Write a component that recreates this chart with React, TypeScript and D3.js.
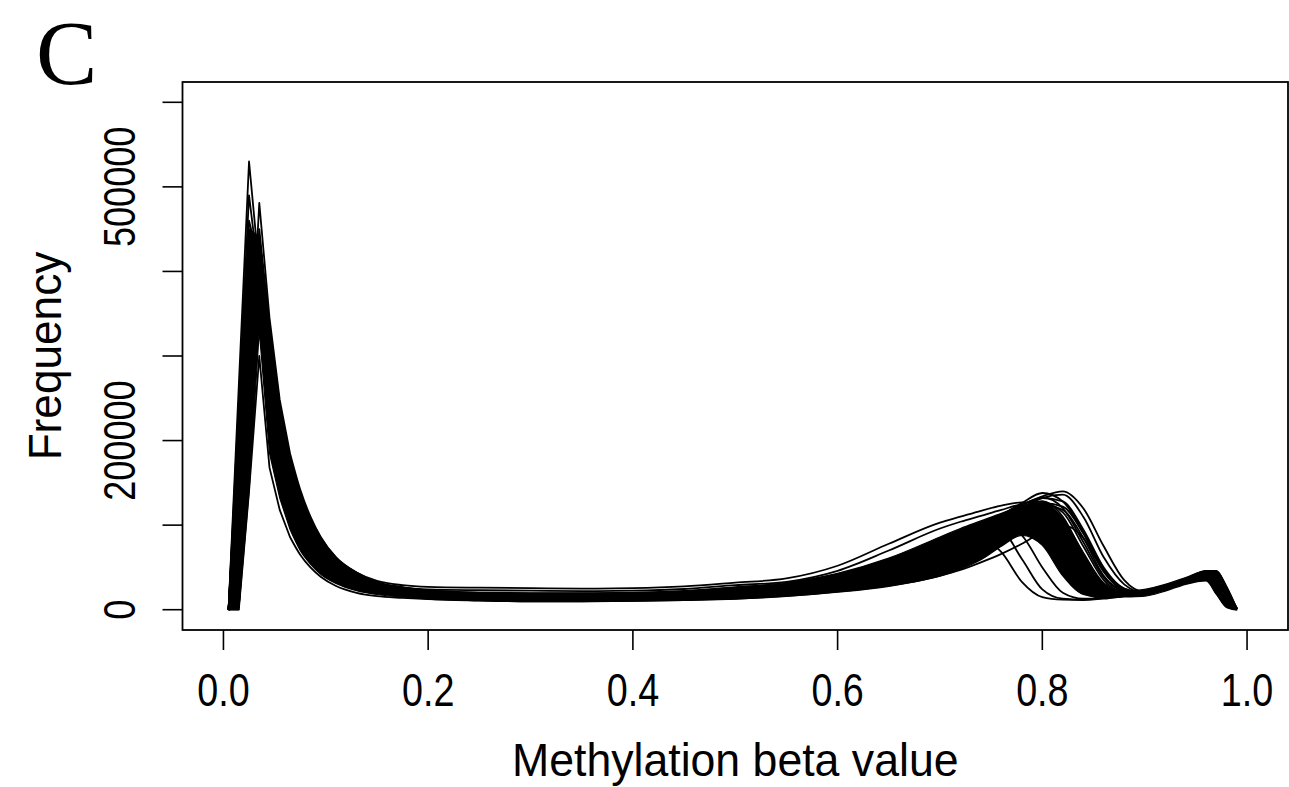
import React from "react";
import * as d3 from "d3";

// Shared x grid: methylation beta value (bin centres)
const BETA = [
  0.005, 0.015, 0.025, 0.035, 0.045, 0.055, 0.065, 0.075, 0.085, 0.095,
  0.11, 0.13, 0.15, 0.175, 0.2, 0.25, 0.3, 0.35, 0.4, 0.45,
  0.5, 0.55, 0.6, 0.65, 0.7, 0.72, 0.74, 0.76, 0.78, 0.8,
  0.82, 0.84, 0.86, 0.88, 0.9, 0.92, 0.94, 0.96, 0.97, 0.98, 0.99,
];

// Frequencies are given in thousands
const UNIT = 1000;

// Dense core of the sample bundle (lower / upper envelope)
const CORE_LOW = [0, 0, 140, 330, 185, 132, 95, 70, 54, 42, 31, 22.5, 18, 15, 12.5, 10.5, 9.5, 9.5, 10, 11, 12.5, 16, 21, 28, 40, 48, 59, 75, 88, 76, 40, 18, 14, 15, 16, 22, 30, 34, 18, 3, 0];
const CORE_HIGH = [0, 230, 450, 440, 340, 245, 183, 140, 109, 86, 62, 44, 33, 27, 23, 20.5, 20, 20, 20.5, 22.5, 27, 32, 43, 61, 86, 96, 105, 114, 122, 126, 108, 68, 32, 22, 24, 30, 38, 46, 46, 28, 2];

// Individual sample curves
const SAMPLE_A1 = [0, 265, 530, 400, 300, 215, 160, 122, 95, 75, 54, 38, 28, 22, 19, 16, 15, 15, 15.5, 17, 20, 25, 34, 48, 70, 80, 92, 108, 122, 118, 80, 40, 22, 18, 19, 26, 34, 43, 44, 22, 1];
const SAMPLE_B1 = [0, 10, 250, 481, 345, 248, 185, 142, 110, 86, 62, 44, 32, 26, 23, 20, 19, 19, 19.5, 21, 24, 30, 40, 56, 80, 90, 100, 112, 124, 132, 128, 95, 50, 25, 20, 27, 35, 45, 45, 25, 1];
const SAMPLE_B3 = [0, 0, 140, 300, 168, 118, 86, 65, 50, 39, 28, 20, 16, 14, 12.5, 11, 10, 10, 10.5, 11.5, 13, 16, 21, 28, 40, 47, 56, 66, 78, 92, 100, 85, 45, 22, 18, 25, 33, 42, 40, 15, 0];
const SAMPLE_A2 = [0, 225, 450, 440, 330, 238, 178, 136, 106, 83, 60, 42, 31, 24, 21, 18, 17, 17, 17.5, 19, 22, 27, 36, 51, 74, 84, 96, 110, 122, 128, 110, 65, 30, 20, 20, 27, 35, 44, 43, 22, 1];
const SAMPLE_A3 = [0, 195, 390, 360, 270, 195, 145, 110, 86, 67, 48, 34, 25, 20, 17, 15, 14, 14, 14.5, 16, 18, 22, 29, 41, 60, 70, 82, 98, 114, 126, 122, 90, 45, 23, 19, 26, 34, 44, 44, 24, 1];
const SAMPLE_B2 = [0, 5, 200, 420, 310, 225, 168, 128, 100, 78, 56, 40, 30, 23, 20, 17.5, 16.5, 16.5, 17, 18.5, 21, 26, 35, 49, 72, 82, 94, 108, 120, 126, 115, 75, 35, 21, 20, 27, 35, 45, 44, 23, 1];
const SAMPLE_C1 = [0, 180, 360, 400, 300, 215, 160, 122, 95, 75, 54, 38, 28, 22, 19, 16.5, 15.5, 15.5, 16, 17.5, 20, 24.5, 32, 45, 66, 76, 88, 102, 116, 124, 118, 85, 40, 22, 19, 26, 34, 43, 43, 21, 1];
const SAMPLE_U1 = [0, 120, 300, 380, 300, 220, 170, 130, 102, 82, 60, 44, 34, 29, 27, 26, 25.5, 25, 25.5, 27.5, 32, 37, 52, 78, 103, 110, 117, 123, 127, 122, 85, 40, 18, 16, 19, 26, 34, 43, 42, 20, 1];
const SAMPLE_U2 = [0, 150, 340, 350, 280, 205, 155, 118, 93, 74, 54, 40, 31, 26, 24, 23, 22.5, 22, 22.5, 24.5, 29, 33, 46, 70, 96, 104, 111, 118, 124, 120, 92, 48, 22, 17, 19, 26, 34, 44, 43, 22, 1];
const SAMPLE_L1 = [0, 200, 420, 380, 280, 200, 150, 115, 90, 70, 50, 36, 27, 21, 18, 15.5, 14.5, 14.5, 15, 16.5, 19, 23, 30, 42, 64, 76, 84, 68, 33, 15, 12, 11.5, 13, 16, 19, 24, 32, 38, 22, 4, 0];
const SAMPLE_L2 = [0, 170, 340, 390, 290, 210, 155, 118, 92, 72, 52, 37, 27, 21, 18, 15.5, 14.5, 14.5, 15, 16.5, 19, 23.5, 31, 44, 65, 76, 90, 92, 60, 24, 13, 12, 14, 17, 19, 26, 34, 44, 43, 21, 1];
const SAMPLE_L3 = [0, 190, 380, 410, 300, 218, 162, 124, 96, 76, 55, 39, 29, 23, 20, 17, 16, 16, 16.5, 18, 21, 25.5, 34, 48, 70, 80, 92, 100, 88, 50, 20, 13, 14, 17, 19, 26, 34, 43, 43, 22, 1];
const SAMPLE_R1 = [0, 210, 420, 430, 320, 230, 172, 131, 102, 80, 58, 41, 30, 24, 21, 18, 17, 17, 17.5, 19, 22, 27, 35, 50, 72, 84, 98, 112, 124, 134, 140, 120, 75, 35, 21, 28, 36, 46, 46, 25, 1];
const SAMPLE_R2 = [0, 230, 460, 410, 310, 225, 168, 128, 100, 78, 56, 40, 29, 23, 20, 17, 16, 16, 16.5, 18, 20.5, 25, 33, 47, 68, 79, 92, 106, 120, 132, 136, 110, 62, 30, 20, 27, 35, 45, 45, 24, 1];
const SAMPLE_R3 = [0, 8, 230, 450, 335, 242, 180, 138, 107, 84, 60, 43, 31, 25, 22, 19, 18, 18, 18.5, 20, 23, 28, 37, 52, 75, 86, 98, 112, 126, 138, 128, 92, 48, 25, 20, 27, 35, 45, 44, 23, 1];
const SAMPLE_R4 = [0, 3, 180, 380, 290, 210, 157, 120, 94, 74, 53, 38, 28, 22, 19, 16.5, 15.5, 15.5, 16, 17.5, 20, 24, 32, 45, 66, 77, 90, 104, 118, 133, 120, 80, 38, 22, 19, 26, 34, 44, 44, 23, 1];
const SAMPLE_R5 = [0, 245, 490, 390, 295, 212, 158, 120, 94, 74, 53, 37, 27, 21, 18, 15.5, 14.5, 14.5, 15, 16.5, 19, 23, 30, 43, 63, 74, 87, 102, 120, 128, 105, 60, 28, 19, 19, 26, 34, 43, 43, 22, 1];
const SAMPLE_M1 = [0, 4, 190, 400, 300, 218, 162, 124, 96, 76, 55, 39, 29, 23, 20, 17, 16, 16, 16.5, 18, 21, 25, 33, 46, 68, 78, 92, 106, 118, 112, 70, 30, 16, 17, 19, 24, 31, 36, 20, 3, 0];
const SAMPLE_M2 = [0, 215, 430, 370, 275, 198, 148, 113, 88, 69, 50, 35, 26, 20.5, 18, 15.5, 14.5, 14.5, 15, 16.5, 19, 23, 31, 44, 66, 77, 92, 105, 110, 90, 45, 20, 15, 17, 19, 26, 34, 43, 43, 21, 1];

const SAMPLES = [
  SAMPLE_A1, SAMPLE_B1, SAMPLE_B3, SAMPLE_A2, SAMPLE_A3, SAMPLE_B2, SAMPLE_C1,
  SAMPLE_U1, SAMPLE_U2, SAMPLE_L1, SAMPLE_L2, SAMPLE_L3, SAMPLE_R1, SAMPLE_R2,
  SAMPLE_R3, SAMPLE_R4, SAMPLE_R5, SAMPLE_M1, SAMPLE_M2,
];

// Axes
const X_TICKS = [0, 0.2, 0.4, 0.6, 0.8, 1.0];
const X_TICK_LABELS = ["0.0", "0.2", "0.4", "0.6", "0.8", "1.0"];
const Y_TICKS = [0, 100000, 200000, 300000, 400000, 500000, 600000];
const Y_LABELED = [0, 200000, 500000];

const W = 1289;
const H = 787;
const LEFT = 182.5;
const RIGHT = 1288;
const TOP = 82;
const BOTTOM = 630;
const SPLIT = 6;

export default function App() {
  const x = d3.scaleLinear().domain([-0.04, 1.04]).range([LEFT, RIGHT]);
  const y = d3.scaleLinear().domain([-24000, 624000]).range([BOTTOM, TOP]);

  const lin = d3.line<[number, number]>().x((d) => x(d[0])).y((d) => y(d[1])).curve(d3.curveLinear);
  const mono = d3.line<[number, number]>().x((d) => x(d[0])).y((d) => y(d[1])).curve(d3.curveMonotoneX);

  const linePath = (vals: number[]) => {
    const pts: [number, number][] = BETA.map((b, i) => [b, vals[i] * UNIT]);
    return (lin(pts.slice(0, SPLIT + 1)) || "") + (mono(pts.slice(SPLIT)) || "");
  };

  type AP = { b: number; lo: number; hi: number };
  const areaPts: AP[] = BETA.map((b, i) => ({ b, lo: CORE_LOW[i] * UNIT, hi: CORE_HIGH[i] * UNIT }));
  const areaLin = d3.area<AP>().x((d) => x(d.b)).y0((d) => y(d.lo)).y1((d) => y(d.hi)).curve(d3.curveLinear);
  const areaMono = d3.area<AP>().x((d) => x(d.b)).y0((d) => y(d.lo)).y1((d) => y(d.hi)).curve(d3.curveMonotoneX);
  const corePath = (areaLin(areaPts.slice(0, SPLIT + 1)) || "") + (areaMono(areaPts.slice(SPLIT)) || "");

  const sans = "'Liberation Sans', Arial, Helvetica, sans-serif";

  return (
    <svg
      width={W}
      height={H}
      viewBox={`0 0 ${W} ${H}`}
      style={{ position: "absolute", left: 0, top: 0, display: "block", background: "#fff" }}
    >
      <rect x={0} y={0} width={W} height={H} fill="#fff" />
      <text x={36} y={84} fontFamily="'Liberation Serif', 'Times New Roman', serif" fontSize={92} fill="#000">
        C
      </text>

      <path d={corePath} fill="#000" stroke="#000" strokeWidth={1.2} />
      {SAMPLES.map((s, i) => (
        <path key={i} d={linePath(s)} fill="none" stroke="#000" strokeWidth={1.8} strokeLinejoin="round" />
      ))}

      <rect x={LEFT} y={TOP} width={RIGHT - LEFT} height={BOTTOM - TOP} fill="none" stroke="#000" strokeWidth={1.8} />

      {X_TICKS.map((t, i) => (
        <g key={"xt" + i}>
          <line x1={x(t)} x2={x(t)} y1={BOTTOM} y2={BOTTOM + 20} stroke="#000" strokeWidth={1.6} />
          <text
            transform={`translate(${x(t)},706) scale(0.82,1)`}
            textAnchor="middle"
            fontFamily={sans}
            fontSize={46}
            fill="#000"
          >
            {X_TICK_LABELS[i]}
          </text>
        </g>
      ))}

      {Y_TICKS.map((t, i) => (
        <line key={"yt" + i} x1={LEFT - 20} x2={LEFT} y1={y(t)} y2={y(t)} stroke="#000" strokeWidth={1.6} />
      ))}
      {Y_LABELED.map((t, i) => (
        <text
          key={"yl" + i}
          transform={`translate(134.5,${y(t)}) rotate(-90) scale(0.82,1)`}
          textAnchor="middle"
          fontFamily={sans}
          fontSize={44}
          fill="#000"
        >
          {String(t)}
        </text>
      ))}

      <text
        transform={`translate(61,${(TOP + BOTTOM) / 2}) rotate(-90) scale(0.94,1)`}
        textAnchor="middle"
        fontFamily={sans}
        fontSize={47}
        fill="#000"
      >
        Frequency
      </text>
      <text
        transform={`translate(${(LEFT + RIGHT) / 2},776) scale(0.96,1)`}
        textAnchor="middle"
        fontFamily={sans}
        fontSize={46.5}
        fill="#000"
      >
        Methylation beta value
      </text>
    </svg>
  );
}
